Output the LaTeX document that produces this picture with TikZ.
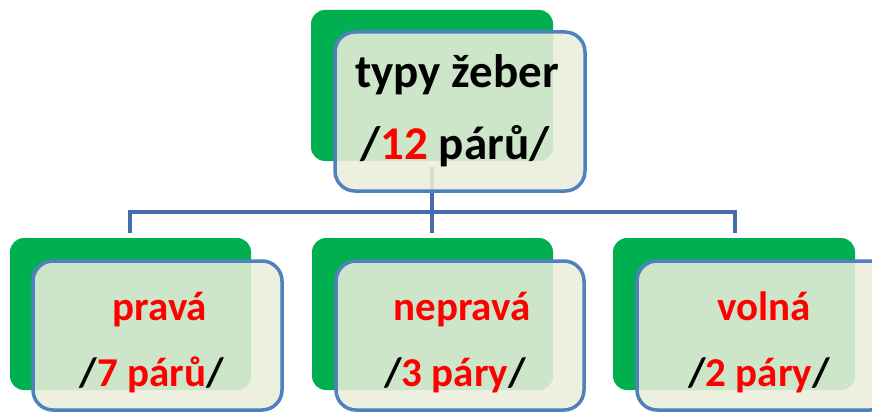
\documentclass[tikz,border=0pt]{standalone}
\usepackage{fontspec}
\setmainfont{Carlito}
\definecolor{bgreen}{HTML}{00B050}
\definecolor{bblue}{HTML}{4F81BD}
\definecolor{boxfill}{RGB}{234,238,218}
\definecolor{connc}{RGB}{70,108,168}
\definecolor{tred}{HTML}{FF0000}
\begin{document}
\begin{tikzpicture}[x=1pt,y=-1pt,
  greenbox/.style={fill=bgreen, rounded corners=14pt},
  bluebox/.style={draw=bblue, line width=3.5pt, fill=boxfill, fill opacity=0.88, rounded corners=20pt},
  conn/.style={draw=connc, line width=3.5pt, line join=miter},
  big/.style={font=\fontsize{47}{47}\selectfont\bfseries, anchor=base, inner sep=0pt},
  small/.style={font=\fontsize{41}{41}\selectfont\bfseries, anchor=base, inner sep=0pt}]
\useasboundingbox (0,0) rectangle (872,412);
\clip (0,0) rectangle (872,412);
% connectors
\coordinate (top) at (432,167);
\coordinate (j) at (432,212);
\coordinate (jl) at (130,212);
\coordinate (jr) at (735,212);
\coordinate (l) at (130,233);
\coordinate (m) at (432,233);
\coordinate (r) at (735,233);
\draw[conn] (top) -- (j);
\draw[conn] (l) -- (jl) -- (jr) -- (r);
\draw[conn] (j) -- (m);
% green back boxes
\path[greenbox] (311,10) rectangle (553,161);
\path[greenbox] (10,238) rectangle (251,390);
\path[greenbox] (312,238) rectangle (553,390);
\path[greenbox] (613,238) rectangle (855,390);
% front boxes
\path[bluebox] (335,32) rectangle (585,191);
\path[bluebox] (33,261) rectangle (282,410);
\path[bluebox] (336,261) rectangle (584,410);
\path[bluebox] (637,261) rectangle (890,410);
% texts
\node[big] (t1) at (457,87) {typy žeber};
\node[big] (t2) at (455,159) {/\textcolor{tred}{12} párů/};
\node[small, text=tred] (a1) at (160,320) {pravá};
\node[small] (a2) at (152,386) {/\textcolor{tred}{7 párů}/};
\node[small, text=tred] (b1) at (462,320) {nepravá};
\node[small] (b2) at (455,386) {/\textcolor{tred}{3 páry}/};
\node[small, text=tred] (c1) at (764,320) {volná};
\node[small] (c2) at (759,386) {/\textcolor{tred}{2 páry}/};
\end{tikzpicture}
\end{document}
